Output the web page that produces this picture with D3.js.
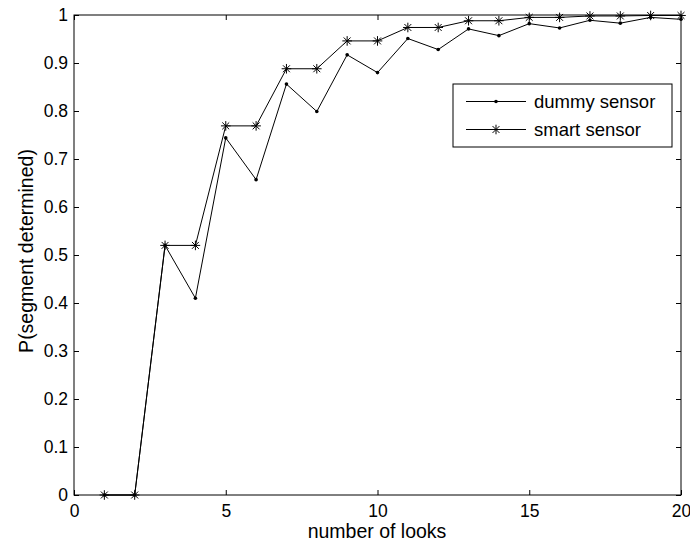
<!DOCTYPE html>
<html lang="en">
<head>
  <meta charset="UTF-8">
  <title>P(segment determined) vs number of looks</title>
  <style>
    body {
      margin: 0;
      background: #fff;
      overflow: hidden;
    }
    svg {
      display: block;
      font-family: "Liberation Sans", Arial, sans-serif;
    }
    .tick text {
      font-family: "Liberation Sans", Arial, sans-serif;
      font-size: 17.5px;
      fill: #000;
    }
    .series {
      fill: none;
      stroke: #000;
      stroke-width: 1;
    }
  </style>
</head>
<body>
  <svg width="690" height="543"></svg>

  <script src="https://d3js.org/d3.v7.min.js"></script>
  <script>
    // Data
    const looks = d3.range(1, 21);
    const dummySensor = [0, 0, 0.52, 0.41, 0.744, 0.657, 0.856, 0.799, 0.917, 0.880,
                         0.951, 0.928, 0.971, 0.957, 0.982, 0.973, 0.989, 0.983, 0.995, 0.991];
    const smartSensor = [0, 0, 0.52, 0.52, 0.769, 0.769, 0.888, 0.888, 0.946, 0.946,
                         0.974, 0.974, 0.988, 0.988, 0.995, 0.995, 0.998, 0.998, 0.999, 0.999];
    const xTicks = [0, 5, 10, 15, 20];
    const yTicks = d3.range(0, 11).map(i => i / 10);
    const seriesNames = ["dummy sensor", "smart sensor"];

    const svg = d3.select("svg");
    const m = { left: 74, right: 681, top: 15, bottom: 495 };

    const x = d3.scaleLinear().domain([0, 20]).range([m.left, m.right]);
    const y = d3.scaleLinear().domain([0, 1]).range([m.bottom, m.top]);

    // Axes with inward ticks (MATLAB box style)
    const tickLen = 5;
    svg.append("g")
      .attr("transform", `translate(0,${m.bottom})`)
      .call(d3.axisBottom(x).tickValues(xTicks).tickSize(-tickLen).tickPadding(10).tickFormat(d3.format("d")))
      .call(g => g.select(".domain").remove());
    svg.append("g")
      .attr("transform", `translate(0,${m.top})`)
      .call(d3.axisTop(x).tickValues(xTicks).tickSize(-tickLen).tickFormat(""))
      .call(g => g.select(".domain").remove());
    svg.append("g")
      .attr("transform", `translate(${m.left},0)`)
      .call(d3.axisLeft(y).tickValues(yTicks).tickSize(-tickLen).tickPadding(6)
        .tickFormat(d => d === 0 || d === 1 ? d3.format("d")(d) : d3.format(".1f")(d)))
      .call(g => g.select(".domain").remove());
    svg.append("g")
      .attr("transform", `translate(${m.right},0)`)
      .call(d3.axisRight(y).tickValues(yTicks).tickSize(-tickLen).tickFormat(""))
      .call(g => g.select(".domain").remove());

    svg.selectAll(".tick line").attr("stroke", "#000");

    // Box
    svg.append("rect")
      .attr("x", m.left).attr("y", m.top)
      .attr("width", m.right - m.left).attr("height", m.bottom - m.top)
      .attr("fill", "none").attr("stroke", "#000").attr("stroke-width", 1);

    // Lines
    const line = d3.line().x((d, i) => x(looks[i])).y(d => y(d));
    svg.append("path").datum(dummySensor).attr("class", "series").attr("d", line);
    svg.append("path").datum(smartSensor).attr("class", "series").attr("d", line);

    // Markers
    function star(g, cx, cy, r) {
      const d = r * 0.72;
      g.append("path")
        .attr("d", `M${cx},${cy - r}L${cx},${cy + r}M${cx - r},${cy}L${cx + r},${cy}` +
                   `M${cx - d},${cy - d}L${cx + d},${cy + d}M${cx - d},${cy + d}L${cx + d},${cy - d}`)
        .attr("stroke", "#000").attr("stroke-width", 1).attr("fill", "none");
    }

    svg.append("g").selectAll("circle")
      .data(dummySensor)
      .join("circle")
      .attr("cx", (d, i) => x(looks[i]))
      .attr("cy", d => y(d))
      .attr("r", 1.8)
      .attr("fill", "#000");

    const stars = svg.append("g");
    smartSensor.forEach((d, i) => star(stars, x(looks[i]), y(d), 4.8));

    // Axis labels
    svg.append("text")
      .attr("x", 377).attr("y", 537.5)
      .attr("text-anchor", "middle")
      .attr("font-size", 19.5)
      .text("number of looks");
    svg.append("text")
      .attr("transform", `translate(33,251) rotate(-90)`)
      .attr("text-anchor", "middle")
      .attr("font-size", 19.5)
      .text("P(segment determined)");

    // Legend
    const legend = svg.append("g");
    legend.append("rect")
      .attr("x", 453).attr("y", 84).attr("width", 219).attr("height", 63)
      .attr("fill", "#fff").attr("stroke", "#000").attr("stroke-width", 1);
    const legendRows = [101.5, 129.5];
    seriesNames.forEach((name, i) => {
      const ly = legendRows[i];
      legend.append("line")
        .attr("x1", 466).attr("x2", 526).attr("y1", ly).attr("y2", ly)
        .attr("stroke", "#000");
      if (i === 0) {
        legend.append("circle").attr("cx", 496).attr("cy", ly).attr("r", 1.8).attr("fill", "#000");
      } else {
        star(legend, 496, ly, 4.8);
      }
      legend.append("text")
        .attr("x", 534).attr("y", ly + 6.5)
        .attr("font-size", 18.5)
        .text(name);
    });
  </script>
</body>
</html>
